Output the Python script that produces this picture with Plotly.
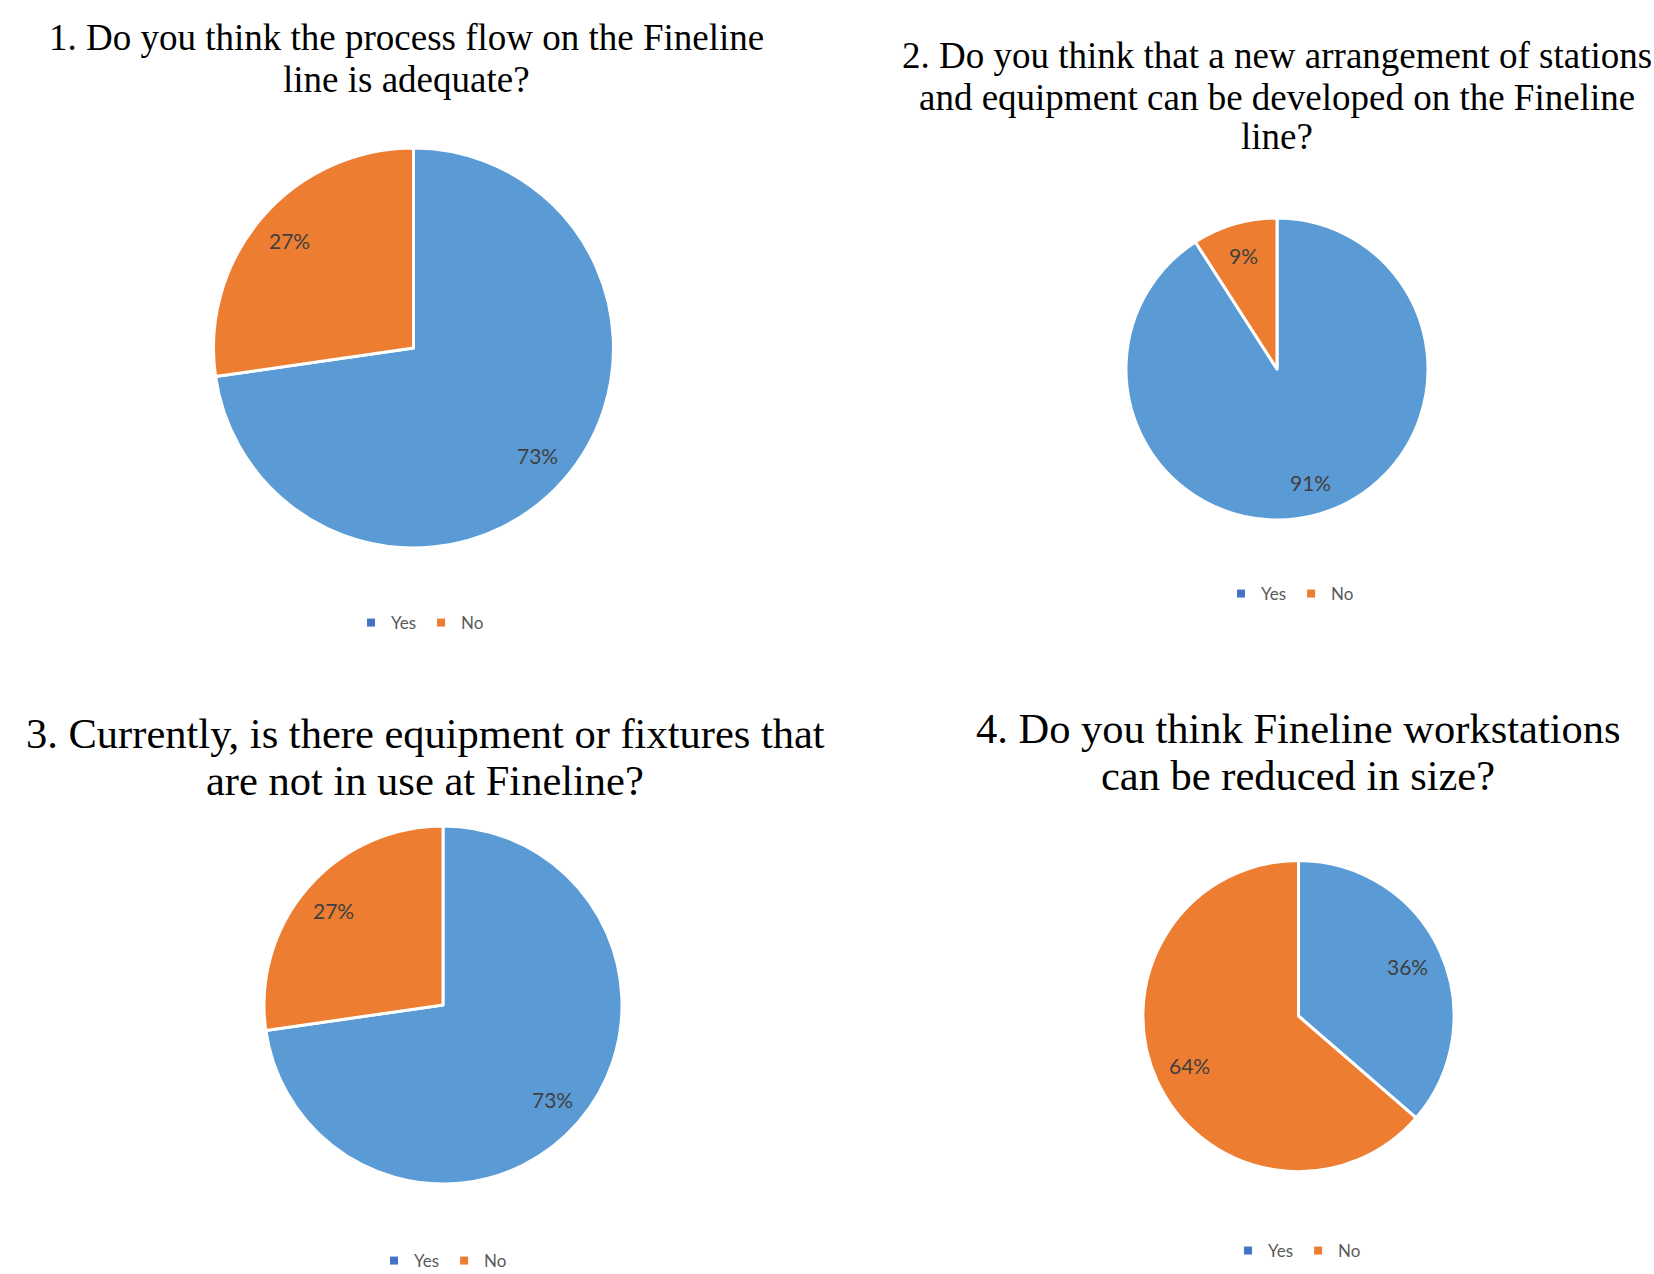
import math
import plotly.graph_objects as go

W, H = 1654, 1274

labels = ["Yes", "No"]
q1_values = [8, 3]
q2_values = [10, 1]
q3_values = [8, 3]
q4_values = [4, 7]

q1_title = ["1. Do you think the process flow on the Fineline", "line is adequate?"]
q2_title = ["2. Do you think that a new arrangement of stations",
            "and equipment can be developed on the Fineline", "line?"]
q3_title = ["3. Currently, is there equipment or fixtures that", "are not in use at Fineline?"]
q4_title = ["4. Do you think Fineline workstations", "can be reduced in size?"]

colors = ["#5B9BD5", "#ED7D31"]
legend_colors = ["#4472C4", "#ED7D31"]

# layout geometry (pixels, top-down)
panels = [
    dict(values=q1_values, title=q1_title, cx=413.5, cy=348, r=200,
         tx=406, ty=[37, 79], tsize=37, lx=420, ly=623, legend="legend", f=0.82),
    dict(values=q2_values, title=q2_title, cx=1277, cy=369, r=151,
         tx=1277, ty=[55, 97, 137], tsize=37, lx=1290, ly=594, legend="legend2", f=0.78),
    dict(values=q3_values, title=q3_title, cx=443, cy=1005, r=179,
         tx=425, ty=[733, 780], tsize=42.5, lx=443, ly=1261, legend="legend3", f=0.81),
    dict(values=q4_values, title=q4_title, cx=1298.5, cy=1016, r=155.6,
         tx=1298, ty=[728, 775], tsize=42.5, lx=1297, ly=1251, legend="legend4", f=0.77),
]

fig = go.Figure()
annotations = []
layout_legends = {}

for p in panels:
    cx, cy, r = p["cx"], p["cy"], p["r"]
    fig.add_trace(go.Pie(
        labels=labels, values=p["values"], sort=False, direction="clockwise",
        rotation=0, marker=dict(colors=colors, line=dict(color="white", width=3)),
        textinfo="none", hoverinfo="label+percent",
        domain=dict(x=[(cx - r) / W, (cx + r) / W], y=[1 - (cy + r) / H, 1 - (cy - r) / H]),
        showlegend=False,
    ))
    # legend entries for this panel
    for lab, col in zip(labels, legend_colors):
        fig.add_trace(go.Scatter(
            x=[None], y=[None], mode="markers", name=lab,
            marker=dict(symbol="square", size=8, color=col),
            legend=p["legend"], showlegend=True, hoverinfo="skip",
        ))
    total = sum(p["values"])
    start = 0.0
    for v in p["values"]:
        frac = v / total
        mid = (start + frac / 2) * 2 * math.pi
        start += frac
        f = p["f"]
        x = cx + f * r * math.sin(mid)
        y = cy - f * r * math.cos(mid)
        annotations.append(dict(
            x=x / W, y=1 - y / H, xref="paper", yref="paper", showarrow=False,
            text=f"{round(frac * 100)}%", xanchor="center", yanchor="middle",
            font=dict(family="Lato", size=21, color="#404040")))
    for line, ty in zip(p["title"], p["ty"]):
        annotations.append(dict(
            x=p["tx"] / W, y=1 - ty / H, xref="paper", yref="paper", showarrow=False,
            text=line, xanchor="center", yanchor="middle",
            font=dict(family="Liberation Serif", size=p["tsize"], color="#000000")))
    layout_legends[p["legend"]] = dict(
        orientation="h", x=p["lx"] / W, y=1 - p["ly"] / H, xanchor="center", yanchor="middle",
        font=dict(family="Lato", size=17, color="#595959"), itemwidth=30,
        bgcolor="rgba(0,0,0,0)")

fig.update_layout(
    width=W, height=H, margin=dict(l=0, r=0, t=0, b=0, autoexpand=False),
    paper_bgcolor="white", plot_bgcolor="white",
    xaxis=dict(visible=False), yaxis=dict(visible=False),
    annotations=annotations, **layout_legends,
)

fig.write_html("out.html")
